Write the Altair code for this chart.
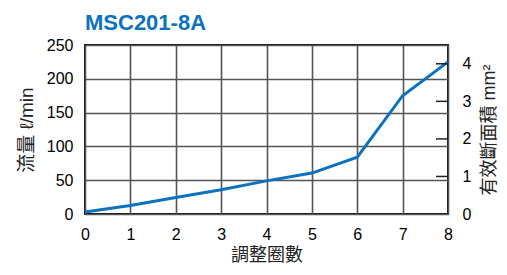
import altair as alt
import pandas as pd

turns = [0, 1, 2, 3, 4, 5, 6, 7, 8]
flow = [3, 12.5, 24.5, 36, 49, 60.5, 84, 175, 225]
area_ticks = [1, 2, 3, 4]
area_labels = [0, 1, 2, 3, 4]

df = pd.DataFrame({"turns": turns, "flow": flow})
ticks_df = pd.DataFrame({"area": area_ticks})

FONT = "Liberation Sans, Arial, Noto Sans CJK TC"
BLUE = "#0b72c0"

line = alt.Chart(df).mark_line(color=BLUE, strokeWidth=3).encode(
    x=alt.X("turns:Q",
            scale=alt.Scale(domain=[0, 8], nice=False),
            axis=alt.Axis(title="調整圈數", values=turns, tickSize=0, domain=False,
                          grid=True, gridColor="#555555", gridWidth=1.6,
                          labelFlush=False,
                          labelFontSize=16, labelPadding=12, labelColor="#000",
                          titleFontSize=18, titleFontWeight="normal", titlePadding=4,
                          titleColor="#222")),
    y=alt.Y("flow:Q",
            scale=alt.Scale(domain=[0, 250], nice=False),
            axis=alt.Axis(title="流量 ℓ/min", values=[0, 50, 100, 150, 200, 250],
                          tickSize=0, domain=False, grid=True, gridColor="#555555",
                          gridWidth=1.6, labelFlush=False, labelFontSize=16, labelPadding=12,
                          labelColor="#000", titleFontSize=19, titleFontWeight="normal",
                          titlePadding=10, titleColor="#222")),
)

right = alt.Chart(ticks_df).mark_rule(color="#222", strokeWidth=1.5).encode(
    x=alt.value(351), x2=alt.value(363),
    y=alt.Y("area:Q",
            scale=alt.Scale(domain=[0, 4.5], nice=False),
            axis=alt.Axis(orient="right", title="有效斷面積 mm²", values=area_labels,
                          tickSize=0, domain=False, grid=False, labelFlush=False,
                          labelFontSize=16, labelPadding=14, labelColor="#000",
                          titleFontSize=18, titleFontWeight="normal", titleAngle=270,
                          titleBaseline="top", titlePadding=10, titleColor="#222")),
)

chart = alt.layer(line, right).resolve_scale(y="independent").properties(
    width=363, height=169,
    autosize=alt.AutoSizeParams(type="none"),
    padding={"left": 77, "top": 37, "right": 51, "bottom": 53},
    title=alt.TitleParams("MSC201-8A", anchor="start", frame="group", fontSize=22,
                          fontWeight="bold", color=BLUE, offset=2, font=FONT),
).configure_view(stroke="#111", strokeWidth=2).configure_axis(
    labelFont=FONT, titleFont=FONT
)

chart.save("out.html", embed_options={"renderer": "svg", "actions": False})
